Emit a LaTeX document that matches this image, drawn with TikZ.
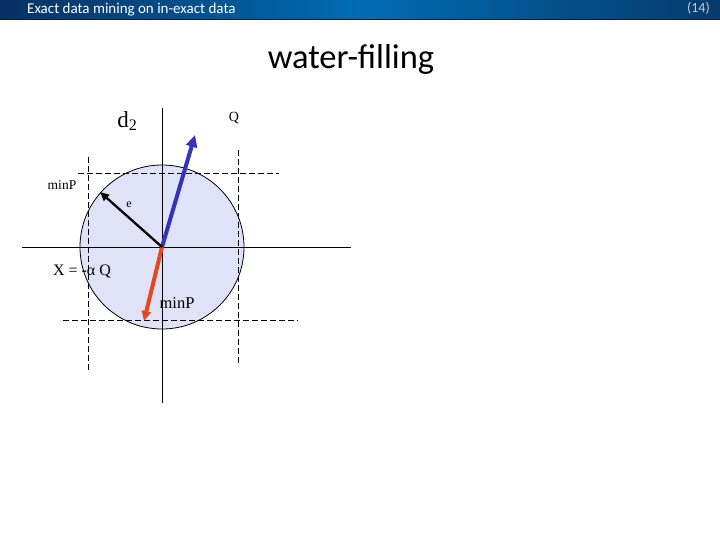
\documentclass[tikz,border=0pt]{standalone}
\usepackage{fontspec}
\setmainfont{Liberation Serif}
\newfontfamily\carfont{Carlito}
\usetikzlibrary{arrows.meta}
\definecolor{barL}{RGB}{8,48,98}
\definecolor{barM}{RGB}{0,108,178}
\definecolor{barR}{RGB}{6,58,108}
\definecolor{fillc}{RGB}{224,226,250}
\definecolor{qblue}{RGB}{52,52,180}
\definecolor{xred}{RGB}{228,72,32}
\tikzset{
  axis/.style={line width=0.9pt, black},
  dline/.style={line width=0.8pt, dash pattern=on 6pt off 3pt},
  lbl/.style={inner sep=0pt, font=\fontsize{14}{14}\selectfont},
}
\begin{document}
\begin{tikzpicture}[x=1pt,y=-1pt]
\useasboundingbox (0,0) rectangle (720,540);
\fill[white] (0,0) rectangle (720,540);
% header
\shade[left color=barL, right color=barR, middle color=barM] (0,0) rectangle (720,19);
\draw[line width=1pt, color={rgb,255:red,10;green,30;blue,60}] (0,19.5) -- (720,19.5);
\node[anchor=west, inner sep=0pt, text=white, font=\carfont\fontsize{15}{15}\selectfont] (hdr) at (27,10) {Exact data mining on in-exact data};
\node[anchor=east, inner sep=0pt, text={rgb,255:red,190;green,205;blue,225}, font=\carfont\fontsize{14}{14}\selectfont] (pg) at (710,8) {(14)};
% title
\node[inner sep=0pt, font=\carfont\fontsize{34.5}{34.5}\selectfont] (title) at (351,59) {water-filling};
% circle
\coordinate (O) at (162,247);
\fill[fillc] (O) circle (82);
\draw[line width=0.8pt] (O) circle (82);
% axes
\coordinate (vt) at (162,108);
\coordinate (vb) at (162,403);
\coordinate (hl) at (22,247);
\coordinate (hr) at (351,247);
\draw[axis] (vt) -- (vb);
\draw[axis] (hl) -- (hr);
% dashed lines
\coordinate (d1a) at (78,173); \coordinate (d1b) at (279,173);
\coordinate (d2a) at (63,320); \coordinate (d2b) at (298,320);
\coordinate (d3a) at (88,157); \coordinate (d3b) at (88,372);
\coordinate (d4a) at (238,150); \coordinate (d4b) at (238,365);
\draw[dline] (d1a) -- (d1b);
\draw[dline] (d2a) -- (d2b);
\draw[dline] (d3a) -- (d3b);
\draw[dline] (d4a) -- (d4b);
% arrows
\coordinate (qtip) at (195,135);
\coordinate (xtip) at (144,321);
\coordinate (etip) at (100,192);
\draw[qblue, line width=4pt, -{Triangle[length=12pt,width=11pt]}] (O) -- (qtip);
\draw[xred, line width=4pt, -{Triangle[length=10pt,width=9pt]}] (O) -- (xtip);
\draw[black, line width=2.3pt, -{Triangle[length=9pt,width=8pt]}] (O) -- (etip);
% labels
\node[inner sep=0pt, font=\fontsize{23}{23}\selectfont] (d2) at (127,121) {d\raisebox{-0.3ex}{\fontsize{16}{16}\selectfont 2}};
\node[lbl] (Q) at (234,118) {Q};
\node[lbl, font=\fontsize{13.5}{13.5}\selectfont] (minP1) at (62,185) {minP};
\node[lbl, font=\fontsize{12}{12}\selectfont] (e) at (129,205) {e};
\node[lbl, font=\fontsize{16}{16}\selectfont] (X) at (82,271) {X = -α Q};
\node[lbl, font=\fontsize{16.5}{16.5}\selectfont] (minP2) at (177,303) {minP};
\end{tikzpicture}
\end{document}
